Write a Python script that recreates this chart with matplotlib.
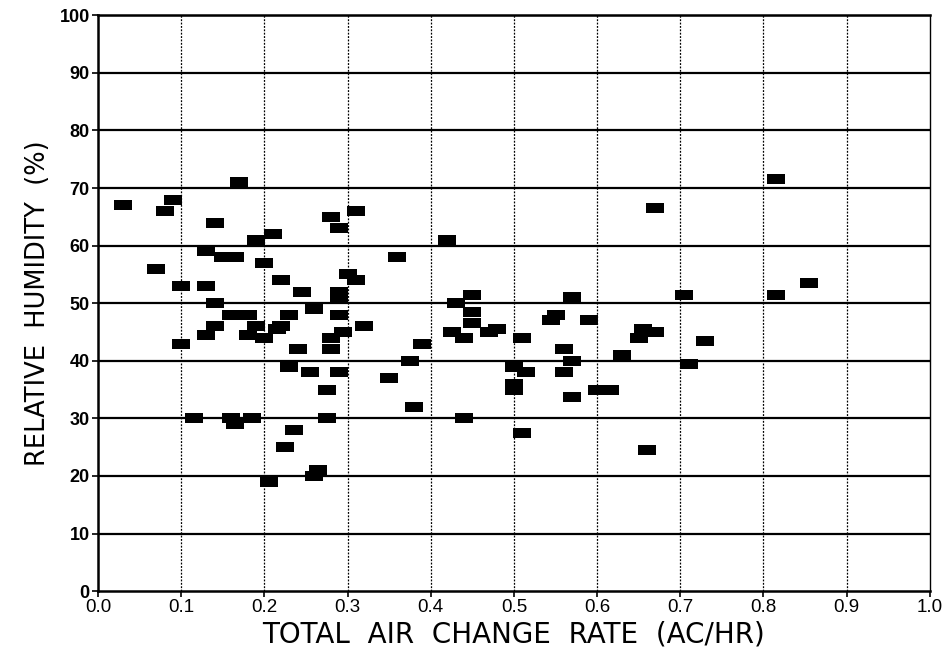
import numpy as np
import matplotlib
matplotlib.use("Agg")
import matplotlib.pyplot as plt

# total air change rate (AC/HR) and relative humidity (%)
ach = [0.03, 0.07, 0.08, 0.09, 0.10, 0.10, 0.115,
       0.13, 0.13, 0.13, 0.14, 0.14, 0.14,
       0.15, 0.165, 0.16, 0.18, 0.17,
       0.16, 0.165, 0.185,
       0.19, 0.20, 0.21, 0.22,
       0.19, 0.215, 0.18, 0.20, 0.22, 0.23,
       0.245, 0.24, 0.23, 0.235, 0.225, 0.205,
       0.26, 0.255, 0.265, 0.26,
       0.28, 0.29, 0.31, 0.30, 0.31, 0.29, 0.29,
       0.29, 0.295, 0.28, 0.28, 0.29, 0.275, 0.275, 0.32,
       0.35, 0.36, 0.375, 0.38, 0.39,
       0.42, 0.43, 0.425, 0.44, 0.44, 0.45, 0.45, 0.45,
       0.47, 0.48,
       0.50, 0.515, 0.50, 0.50, 0.51, 0.51,
       0.545, 0.55, 0.56, 0.56, 0.57, 0.57, 0.57, 0.59,
       0.60, 0.615, 0.63, 0.65, 0.655, 0.67, 0.66, 0.67,
       0.705, 0.71, 0.73, 0.815, 0.815, 0.855]
rh = [67, 56, 66, 68, 53, 43, 30,
      59, 53, 44.5, 64, 50, 46,
      58, 58, 48, 48, 71,
      30, 29, 30,
      61, 57, 62, 54,
      46, 45.5, 44.5, 44, 46, 48,
      52, 42, 39, 28, 25, 19,
      49, 38, 21, 20,
      65, 63, 66, 55, 54, 52, 51,
      48, 45, 44, 42, 38, 35, 30, 46,
      37, 58, 40, 32, 43,
      61, 50, 45, 44, 30, 51.5, 48.5, 46.5,
      45, 45.5,
      39, 38, 36, 35, 44, 27.5,
      47, 48, 42, 38, 40, 51, 33.7, 47,
      35, 35, 41, 44, 45.5, 45, 24.5, 66.5,
      51.5, 39.5, 43.5, 71.5, 51.5, 53.5]

xticks = np.arange(0, 1.01, 0.1)
yticks = np.arange(0, 101, 10)

plt.rcParams['font.family'] = ['Liberation Sans', 'DejaVu Sans']

fig = plt.figure(figsize=(9.43, 6.62), dpi=100)
ax = fig.add_axes([0.104, 0.107, 0.882, 0.870])

# grid: solid horizontals, dotted verticals
for yv in yticks[1:]:
    ax.axhline(yv, color='black', lw=1.6, zorder=1)
for xv in xticks[1:-1]:
    ax.axvline(xv, color='black', lw=0.9, ls=(0, (1.5, 1.2)), zorder=1)

# wide rectangular marker (about 17 x 11 px)
rect = [(-1.6, -1), (1.6, -1), (1.6, 1), (-1.6, 1), (-1.6, -1)]
ax.scatter(ach, rh, marker=rect, s=150, c='black', linewidths=0, zorder=3)

ax.set_xlim(0, 1.0)
ax.set_ylim(0, 100)
ax.set_xticks(xticks)
ax.set_yticks(yticks)
ax.set_xticklabels(['%.1f' % v for v in xticks], fontsize=13.5,
                   family=['Liberation Sans Narrow', 'Liberation Sans'])
ax.set_yticklabels(['%d' % v for v in yticks], fontsize=13, fontweight='bold')
ax.tick_params(axis='both', direction='out', length=4, width=1.2, pad=2)

for side in ['left', 'bottom', 'top']:
    ax.spines[side].set_linewidth(1.8)
ax.spines['right'].set_linewidth(1.0)

ax.set_xlabel('TOTAL  AIR  CHANGE  RATE  (AC/HR)', fontsize=20,
              family='DejaVu Sans', labelpad=3)
ax.set_ylabel('RELATIVE  HUMIDITY  (%)', fontsize=18.5,
              family='DejaVu Sans', labelpad=6)

fig.savefig('out.png', dpi=100)
